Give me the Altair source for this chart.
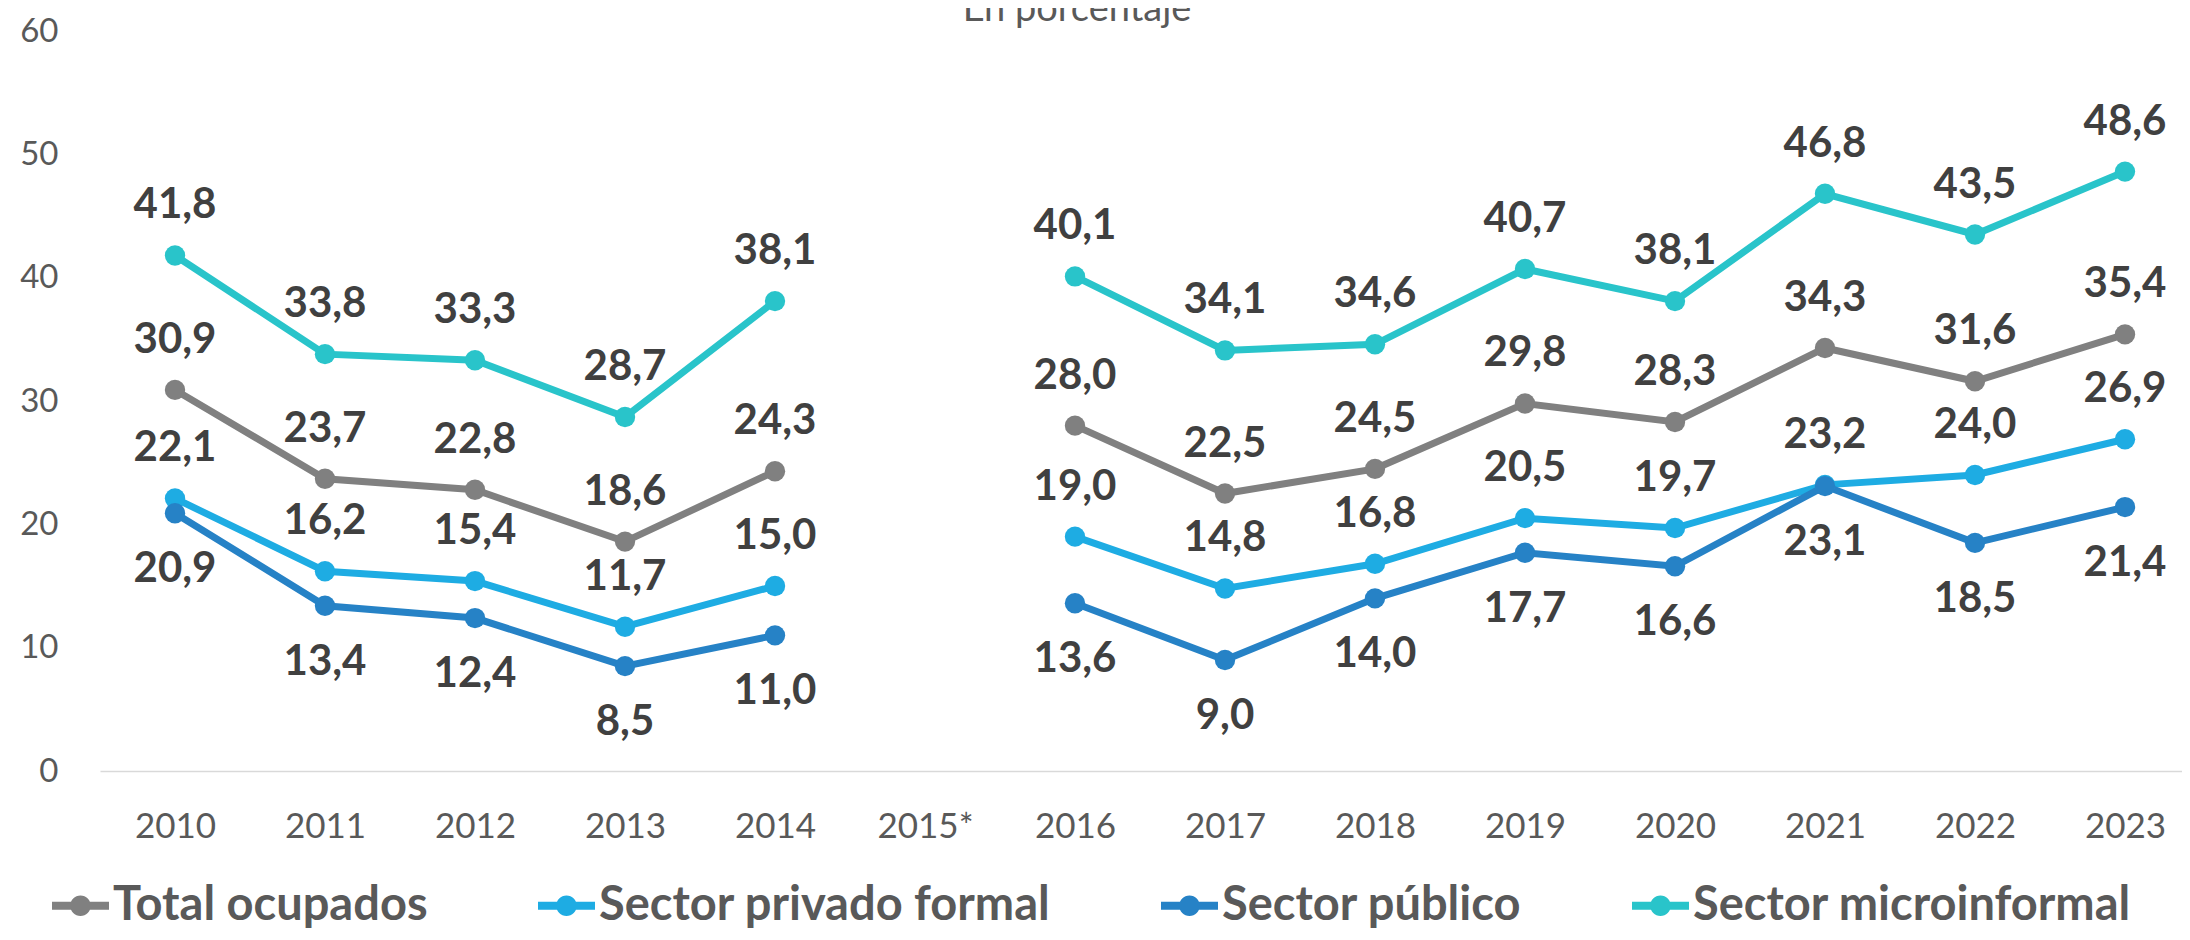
import altair as alt
import pandas as pd

years = [2010, 2011, 2012, 2013, 2014, 2015, 2016, 2017, 2018, 2019, 2020, 2021, 2022, 2023]
series_names = ["Total ocupados", "Sector privado formal", "Sector público", "Sector microinformal"]
total = [30.9, 23.7, 22.8, 18.6, 24.3, None, 28.0, 22.5, 24.5, 29.8, 28.3, 34.3, 31.6, 35.4]
privado = [22.1, 16.2, 15.4, 11.7, 15.0, None, 19.0, 14.8, 16.8, 20.5, 19.7, 23.2, 24.0, 26.9]
publico = [20.9, 13.4, 12.4, 8.5, 11.0, None, 13.6, 9.0, 14.0, 17.7, 16.6, 23.1, 18.5, 21.4]
micro = [41.8, 33.8, 33.3, 28.7, 38.1, None, 40.1, 34.1, 34.6, 40.7, 38.1, 46.8, 43.5, 48.6]
colors = ["#808080", "#1EACE3", "#2682C6", "#29C4CA"]
y_ticks = [0, 10, 20, 30, 40, 50, 60]
subtitle = "En porcentaje"

rows = []
for name, vals in zip(series_names, [total, privado, publico, micro]):
    for yr, v in zip(years, vals):
        if v is None:
            continue
        rows.append({"year": yr, "serie": name, "linea": name, "valor": v,
                     "periodo": "a" if yr < 2015 else "b"})
df = pd.DataFrame(rows)

W, H = 2082, 740
x_scale = alt.Scale(domain=[2009.5, 2009.5 + W / 150.0], nice=False, zero=False)
y_scale = alt.Scale(domain=[0, 60], nice=False)

x_enc = alt.X("year:Q", scale=x_scale,
              axis=alt.Axis(values=years, format="d",
                            labelExpr="datum.value == 2015 ? '2015*' : datum.label",
                            ticks=False, tickSize=0, grid=False,
                            domainColor="#d9d9d9", domainWidth=1.5,
                            labelFont="Lato", labelFontSize=35, labelColor="#595959",
                            labelBaseline="middle", labelPadding=55, title=None,
                            labelFlush=False, labelOverlap=False))
y_enc = alt.Y("valor:Q", scale=y_scale,
              axis=alt.Axis(values=y_ticks, ticks=False, tickSize=0, grid=False, domain=False,
                            labelFont="Lato", labelFontSize=33, labelColor="#595959",
                            labelPadding=42, title=None))

base = alt.Chart(df)

legend_path = ("M-1,-0.14 L1,-0.14 L1,0.14 L-1,0.14 Z "
               "M0.36,0 A0.36,0.36 0 1 1 -0.36,0 A0.36,0.36 0 1 1 0.36,0 Z")

# line colours: data-driven domain sorted in series order (separate scale, no legend)
lines = base.mark_line(strokeWidth=7).encode(
    x=x_enc, y=y_enc,
    stroke=alt.Stroke("linea:N", sort=series_names, scale=alt.Scale(range=colors), legend=None),
    detail="periodo:N",
)

points = base.mark_point(filled=True, size=415, opacity=1, shape="circle").encode(
    x=x_enc, y=y_enc,
    color=alt.Color("serie:N", scale=alt.Scale(domain=series_names, range=colors),
                    legend=alt.Legend(orient="none", legendX=-48, legendY=846,
                                      direction="horizontal", title=None,
                                      symbolType=legend_path, symbolSize=3249,
                                      symbolStrokeWidth=0, symbolOpacity=1,
                                      labelFont="Lato", labelFontSize=47,
                                      labelFontWeight="bold", labelColor="#595959",
                                      labelOffset=4, columnPadding=110,
                                      labelLimit=1000)),
)

label_base = base.transform_calculate(
    lab="replace(format(datum.valor, '.1f'), '.', ',')"
)
labels_above = label_base.transform_filter(
    alt.datum.serie != "Sector público"
).mark_text(font="Lato", fontSize=42, fontWeight="bold", color="#404040",
            baseline="middle", dy=-50).encode(x=x_enc, y=y_enc, text="lab:N")
labels_below = label_base.transform_filter(
    alt.datum.serie == "Sector público"
).mark_text(font="Lato", fontSize=42, fontWeight="bold", color="#404040",
            baseline="middle", dy=56).encode(x=x_enc, y=y_enc, text="lab:N")

title_df = pd.DataFrame({"t": [subtitle]})
title = alt.Chart(title_df).mark_text(font="Lato", fontSize=38, color="#595959",
                                      baseline="alphabetic", align="center").encode(
    x=alt.value(977), y=alt.value(-10), text="t:N")

chart = alt.layer(lines, points, labels_above, labels_below, title).properties(
    width=W, height=H,
    background="white",
    autosize=alt.AutoSizeParams(type="none"),
    padding={"left": 92, "top": 23, "right": 0, "bottom": 161},
).configure_view(stroke=None)

chart.save("out.html", embed_options={"renderer": "svg", "actions": False})
